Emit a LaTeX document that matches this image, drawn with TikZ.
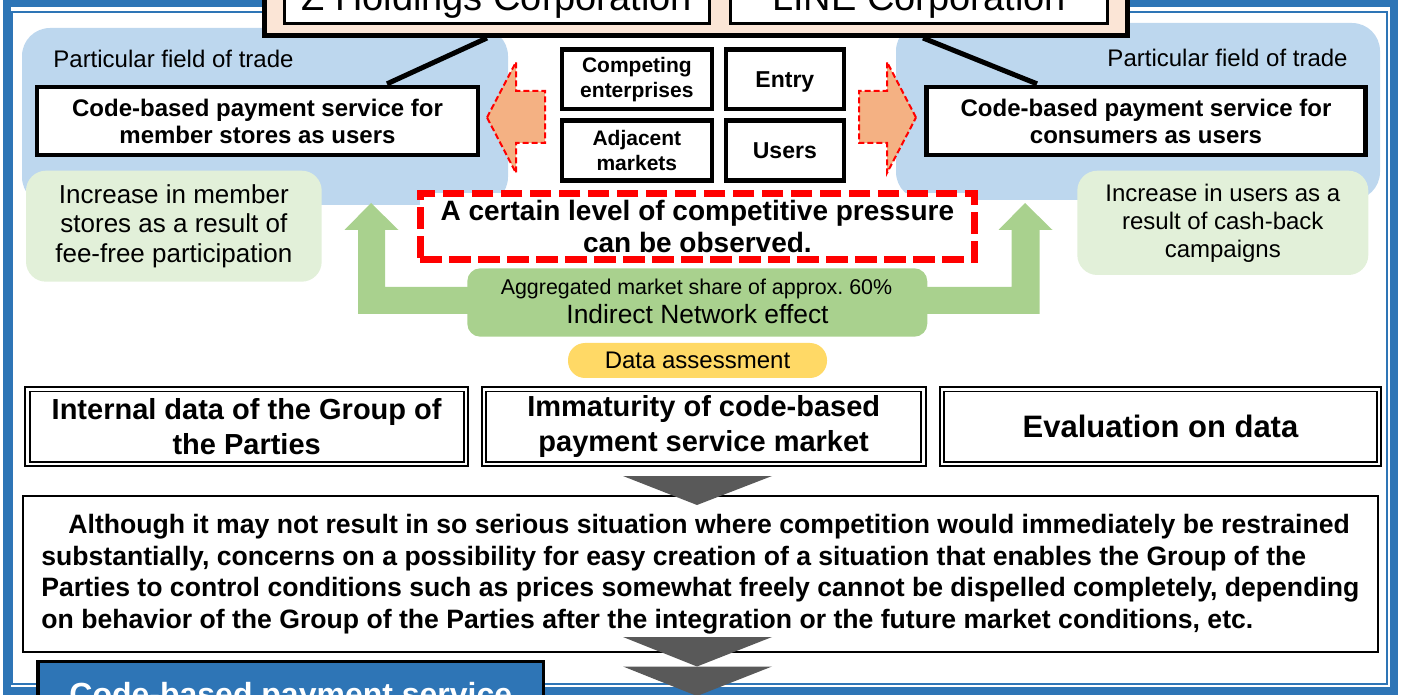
\documentclass[tikz,border=0pt]{standalone}
\usepackage{fontspec}
\setmainfont{Liberation Sans}
\usetikzlibrary{calc}

\definecolor{frameblue}{HTML}{2E75B6}
\definecolor{fieldblue}{HTML}{BDD7EE}
\definecolor{partypink}{HTML}{FBE5D6}
\definecolor{paleleaf}{HTML}{E2F0D9}
\definecolor{leaf}{HTML}{A9D18E}
\definecolor{peach}{HTML}{F4B183}
\definecolor{sun}{HTML}{FFD966}
\definecolor{slate}{HTML}{595959}

\begin{document}
\begin{tikzpicture}[x=0.5pt, y=-0.5pt,
  corpbox/.style={draw=black, line width=1.5pt, fill=white, inner sep=0pt,
    minimum height=22.5pt, font=\fontsize{19}{22}\selectfont},
  svcbox/.style={draw=black, line width=2.15pt, fill=white, inner sep=0pt,
    minimum height=34pt, align=center, font=\bfseries\fontsize{12}{13.5}\selectfont},
  gridbox/.style={draw=black, line width=2.15pt, fill=white, inner sep=0pt, align=center},
  fieldtag/.style={inner sep=0pt, font=\fontsize{12}{13.5}\selectfont},
  effectbox/.style={fill=paleleaf, rounded corners=10pt, inner sep=0pt, align=center},
  databox/.style={draw=black, double=white, double distance=1.4pt, line width=0.9pt,
    fill=white, inner sep=0pt, minimum height=37.35pt, align=center,
    font=\bfseries\fontsize{14.5}{17.5}\selectfont},
  peacharrow/.style={fill=peach, draw=red, line width=1pt, dash pattern=on 3pt off 1.5pt},
  leafarrow/.style={fill=leaf},
  slatedrop/.style={fill=slate}]

  \useasboundingbox (0,0) rectangle (1404,695);
  \clip (0,0) rectangle (1404,695);

  \draw[frameblue, line width=4pt] (6.5,3.5) rectangle (1394,691);
  \draw[frameblue, line width=1pt] (12,12) rectangle (1386.5,684);

  \fill[fieldblue, rounded corners=14pt] (22,28) rectangle (508,205);
  \fill[fieldblue, rounded corners=14pt] (896,23) rectangle (1380,200);

  \node[draw=black, line width=2.5pt, fill=partypink, minimum width=431.75pt,
    minimum height=37.75pt] (parties) at (695.75,-2.25) {};
  \node[corpbox, minimum width=212.25pt] (zhold) at (496.75,1) {Z Holdings Corporation};
  \node[corpbox, minimum width=188.5pt] (linecorp) at (919,1) {LINE Corporation};

  \node[fieldtag, anchor=base west] (lfieldtag) at (53,68) {Particular field of trade};
  \node[fieldtag, anchor=base east] (rfieldtag) at (1348,67) {Particular field of trade};

  \node[svcbox, minimum width=220.5pt] (lsvc) at (257.5,121)
    {Code-based payment service for\\member stores as users};
  \node[svcbox, minimum width=219.5pt] (rsvc) at (1146,121)
    {Code-based payment service for\\consumers as users};

  \draw[line width=2.5pt] ($(parties.south)+(-208.75,0)$) -- ($(lsvc.north)+(129.5,-1)$);
  \draw[line width=2.5pt] ($(parties.south)+(227.25,0)$) -- ($(rsvc.north)+(-109,-1)$);

  \node[gridbox, minimum width=75.15pt, minimum height=29.75pt,
    font=\bfseries\fontsize{10.5}{12.5}\selectfont] (compete) at (636.85,79.25)
    {Competing\\enterprises};
  \node[gridbox, minimum width=58.85pt, minimum height=29.75pt, text depth=0pt,
    font=\bfseries\fontsize{11.5}{13}\selectfont] (entry) at (784.85,79.25) {Entry};
  \node[gridbox, minimum width=75.15pt, minimum height=30pt,
    font=\bfseries\fontsize{10.5}{12.5}\selectfont] (adjacent) at (636.85,150.5)
    {Adjacent\\markets};
  \node[gridbox, minimum width=58.85pt, minimum height=30pt,
    font=\bfseries\fontsize{11.5}{13}\selectfont] (users) at (784.85,150.5) {Users};

  \draw[peacharrow] (487,117.5) -- (516,62) -- (516,91) -- (545,91) -- (545,143)
    -- (516,143) -- (516,173) -- cycle;
  \draw[peacharrow] (916,117.5) -- (887,62) -- (887,91) -- (859,91) -- (859,143)
    -- (887,143) -- (887,173) -- cycle;

  \node[effectbox, minimum width=147.85pt, minimum height=55.5pt,
    font=\fontsize{13}{14.75}\selectfont] (lgain) at (173.85,226.2)
    {Increase in member\\stores as a result of\\fee-free participation};
  \node[effectbox, minimum width=145.5pt, minimum height=52.15pt,
    font=\fontsize{12}{14}\selectfont] (rgain) at (1222.8,222.85)
    {Increase in users as a\\result of cash-back\\campaigns};

  \fill[leafarrow] (371,203) -- (398.5,230) -- (385,230) -- (385,287) -- (480,287)
    -- (480,314) -- (358,314) -- (358,230) -- (344.5,230) -- cycle;
  \fill[leafarrow] (1025,203) -- (1052.5,230) -- (1039.5,230) -- (1039.5,314)
    -- (915,314) -- (915,287) -- (1011.5,287) -- (1011.5,230) -- (998.5,230) -- cycle;
  \node[fill=leaf, rounded corners=6.5pt, minimum width=230pt, minimum height=34.2pt,
    inner sep=0pt] (network) at (697.3,302.5) {};
  \node[font=\fontsize{10.7}{12}\selectfont, anchor=base] (share) at (696.5,295)
    {Aggregated market share of approx.\ 60\%};
  \node[font=\fontsize{13.2}{15}\selectfont, anchor=base] (indirect) at (697.5,324)
    {Indirect Network effect};

  \node[draw=red, line width=3.5pt, dash pattern=on 10.8pt off 3.7pt, fill=white,
    minimum width=277.4pt, minimum height=32.85pt, inner sep=0pt, align=center,
    font=\bfseries\fontsize{14}{16}\selectfont] (pressure) at (697.4,226.2)
    {A certain level of competitive pressure\\can be observed.};

  \node[fill=sun, rounded corners=8.5pt, minimum width=129.5pt, minimum height=17.5pt,
    inner sep=0pt, font=\fontsize{12}{14}\selectfont] (assess) at (697.5,360.5)
    {Data assessment};

  \node[databox, minimum width=219.35pt] (internal) at (246.65,426.65)
    {Internal data of the Group of\\the Parties};
  \node[databox, minimum width=219.7pt] (immature) at (703.7,426.65)
    {Immaturity of code-based\\payment service market};
  \node[databox, minimum width=218.5pt, font=\bfseries\fontsize{15.5}{17.5}\selectfont]
    (evaluate) at (1160.5,426.65) {Evaluation on data};

  \node[draw=black, line width=1.2pt, fill=white, minimum width=677.6pt,
    minimum height=78pt, inner sep=0pt, align=left,
    font=\bfseries\fontsize{13.3}{15.75}\selectfont] (concern) at (700.4,574)
    {\hspace*{13.5pt}Although it may not result in so serious situation where competition would immediately be restrained\\
    substantially, concerns on a possibility for easy creation of a situation that enables the Group of the\\
    Parties to control conditions such as prices somewhat freely cannot be dispelled completely, depending\\
    on behavior of the Group of the Parties after the integration or the future market conditions, etc.};

  \fill[slatedrop] (623,476) -- (772,476) -- (697,505) -- cycle;
  \fill[slatedrop] (623,637) -- (772,637) -- (697,666.5) -- cycle;
  \fill[slatedrop] (623,666.5) -- (772,666.5) -- (697,696) -- cycle;

  \node[draw=black, line width=1.6pt, fill=frameblue, text=white, minimum width=252.85pt,
    minimum height=36pt, inner sep=0pt, font=\bfseries\fontsize{16}{18}\selectfont]
    (codepay) at (290.85,697.7) {Code-based payment service};

\end{tikzpicture}
\end{document}
